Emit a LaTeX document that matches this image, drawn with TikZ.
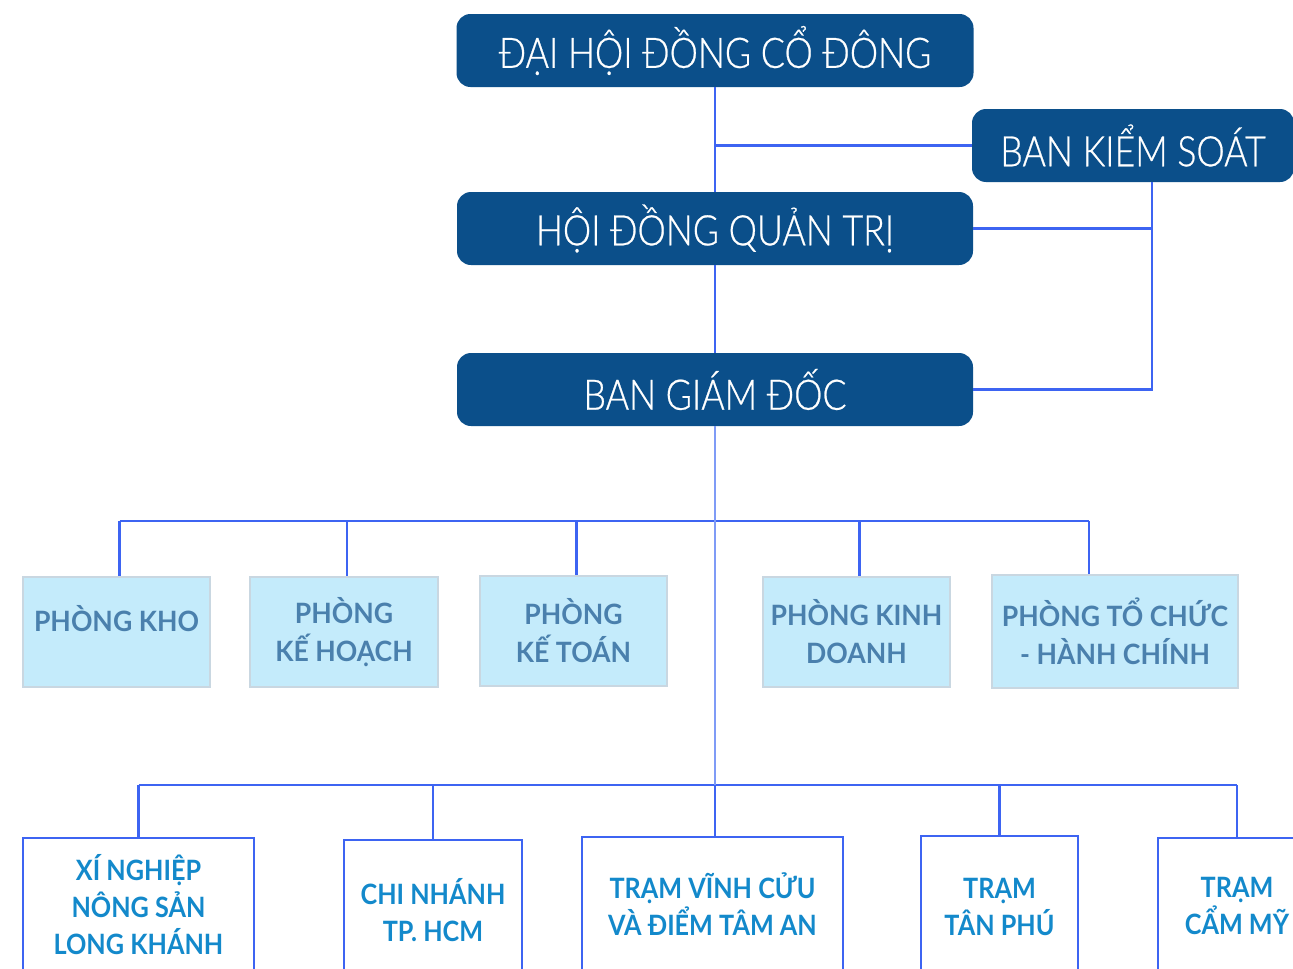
\documentclass[tikz,border=0pt]{standalone}
\usepackage{fontspec}
\setmainfont{Lato}
\newfontfamily\headfont[FakeStretch=0.85,FakeBold=0.6]{Lato Light}
\newfontfamily\deptfont[FakeStretch=0.95]{Lato}
\newfontfamily\unitfont[FakeStretch=0.9]{Lato}
\usetikzlibrary{positioning}

\definecolor{navy}{HTML}{0B4F8A}
\definecolor{linkblue}{HTML}{3D64F2}
\definecolor{trunkblue}{HTML}{7F9BF6}
\definecolor{deptfill}{HTML}{C4EBFB}
\definecolor{deptline}{HTML}{C9D7E1}
\definecolor{depttext}{HTML}{4A80AD}
\definecolor{unittext}{HTML}{1389CB}

\begin{document}
\begin{tikzpicture}[x=1pt,y=-1pt,
      head/.style ={fill=navy,rounded corners=14pt,text=white,inner sep=0pt,minimum height=73pt,
                    font=\headfont\fontsize{42}{48}\selectfont},
      dept/.style ={draw=deptline,line width=2.5pt,fill=deptfill,text=depttext,align=center,inner sep=0pt,
                    minimum width=187pt,minimum height=110pt,font=\deptfont\bfseries\fontsize{28}{38}\selectfont},
      unit/.style ={draw=linkblue,line width=2.5pt,fill=white,text=unittext,align=center,inner sep=0pt,
                    font=\unitfont\bfseries\fontsize{28}{37}\selectfont},
      link/.style ={draw=linkblue,line width=2.6pt},
      trunk/.style={draw=trunkblue,line width=2pt}]
      \useasboundingbox (0,0) rectangle (1293,969);
      \clip (0,0) rectangle (1293,969);

      % Governing bodies
      \node[head,minimum width=517pt] (dhcd) at (715,50.5) {ĐẠI HỘI ĐỒNG CỔ ĐÔNG};
      \node[head,minimum width=322pt] (bks)  at (1133,145.5) {BAN KIỂM SOÁT};
      \node[head,minimum width=516pt] (hdqt) at (715,228.5) {HỘI ĐỒNG QUẢN TRỊ};
      \node[head,minimum width=516pt] (bgd)  at (715,389.5) {BAN GIÁM ĐỐC};

      % Departments
      \node[dept,text depth=28pt] (kho) at (116.5,632) {PHÒNG KHO};
      \node[dept,minimum width=188pt] (kh) at (344,632) {PHÒNG\\KẾ HOẠCH};
      \node[dept] (kt) at (573.5,631) {PHÒNG\\KẾ TOÁN};
      \node[dept] (kd) at (856.5,632) {PHÒNG KINH\\DOANH};
      \node[dept,minimum width=246pt,minimum height=113pt] (tc) at (1115,631.5) {PHÒNG TỔ CHỨC\\- HÀNH CHÍNH};

      % Units
      \node[unit,minimum width=231pt,minimum height=134pt] (xn) at (138.5,905) {XÍ NGHIỆP\\NÔNG SẢN\\LONG KHÁNH};
      \node[unit,minimum width=178pt,minimum height=140pt] (cn) at (433,910) {CHI NHÁNH\\TP. HCM};
      \node[unit,minimum width=261pt,minimum height=134pt] (vc) at (712.5,904) {TRẠM VĨNH CỬU\\VÀ ĐIỂM TÂM AN};
      \node[unit,minimum width=157pt,minimum height=142pt] (tp) at (999.5,907) {TRẠM\\TÂN PHÚ};
      \node[unit,minimum width=158pt,minimum height=136pt] (cm) at (1237,906) {TRẠM\\CẨM MỸ};

      % Top links
      \draw[link] (dhcd) -- (hdqt);
      \draw[link] (bks.west) -- (bks.west -| dhcd.south);
      \draw[link] (hdqt) -- (bgd);
      \coordinate (bksdrop) at ([xshift=19pt]bks.south);
      \draw[link] (bksdrop) |- (bgd.east);
      \draw[link] (hdqt.east) -- (hdqt.east -| bksdrop);

      % Department bus
      \coordinate (bus1) at (0,521);
      \draw[link] ([xshift=3pt]kho.north |- bus1) -- ([xshift=-26pt]tc.north |- bus1);
      \foreach \n/\dx in {kho/3,kh/3,kt/3,kd/3,tc/-26}
        \draw[link] ([xshift=\dx pt]\n.north) -- ([xshift=\dx pt]\n.north |- bus1);

      % Unit bus
      \coordinate (bus2) at (0,785);
      \draw[link] (xn.north |- bus2) -- (cm.north |- bus2);
      \foreach \n in {xn,cn,tp,cm}
        \draw[link] (\n.north) -- (\n.north |- bus2);
      \draw[link] (vc.north -| bgd.south) -- (bgd.south |- bus2);
      \draw[trunk] (bgd.south) -- (bgd.south |- bus2);
\end{tikzpicture}
\end{document}
